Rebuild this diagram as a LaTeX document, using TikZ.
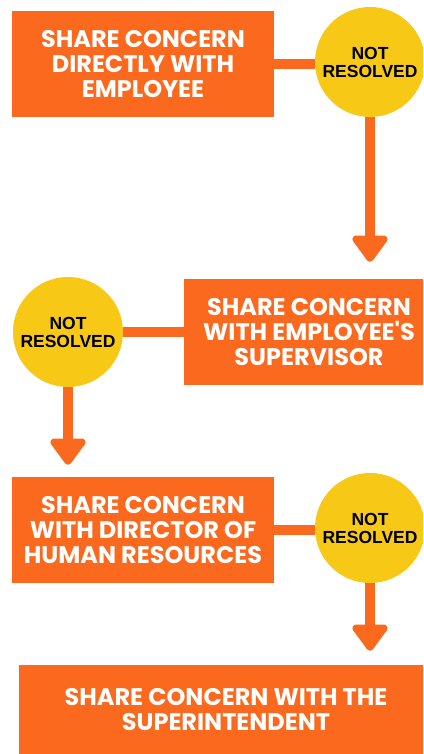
\documentclass[tikz,border=0pt]{standalone}
\usepackage{fontspec}
\usetikzlibrary{arrows.meta}
\newfontfamily\boxfont{Poppins}
\newfontfamily\circfont{Liberation Sans}
\definecolor{orng}{HTML}{FA691E}
\definecolor{yel}{HTML}{F7C916}
\begin{document}
\begin{tikzpicture}[x=1pt,y=-1pt,
  stepbox/.style={fill=orng, inner sep=0pt, minimum height=106pt, text=white,
    font=\boxfont\bfseries\fontsize{24}{25}\selectfont, align=center},
  notres/.style={circle, fill=yel, minimum size=110pt, inner sep=0pt,
    font=\circfont\bfseries\fontsize{17.5}{18}\selectfont, align=center},
  conn/.style={draw=orng, line width=10pt},
  arr/.style={conn, -{Triangle[width=40pt,length=29pt,round]}}]
\useasboundingbox (0,0) rectangle (423,754);
\clip (0,0) rectangle (423,754);
\fill[white] (0,0) rectangle (423,754);
% row 1
\node[stepbox, minimum width=262pt] (b1) at (143,64.5) {SHARE CONCERN\\DIRECTLY WITH\\EMPLOYEE};
\node[notres] (c1) at (370,62) {NOT\\RESOLVED};
% row 2
\node[stepbox, minimum width=250pt] (b2) at (309,332) {SHARE CONCERN\\WITH EMPLOYEE'S\\SUPERVISOR};
\node[notres] (c2) at (68,332) {NOT\\RESOLVED};
% row 3
\node[stepbox, minimum width=262pt] (b3) at (143,530) {SHARE CONCERN\\WITH DIRECTOR OF\\HUMAN RESOURCES};
\node[notres] (c3) at (370,528) {NOT\\RESOLVED};
% row 4
\node[stepbox, minimum width=414pt, minimum height=89pt] (b4) at (226,709.5) {SHARE CONCERN WITH THE\\SUPERINTENDENT};
% connectors
\draw[conn] (b1.east) -- (b1.east -| c1.west);
\draw[conn] (b2.west) -- (b2.west -| c2.east);
\draw[conn] (b3.east) -- (b3.east -| c3.west);
\draw[arr, shorten >=17pt] (c1.south) -- (c1.south |- b2.north);
\draw[arr, shorten >=12pt] (c2.south) -- (c2.south |- b3.north);
\draw[arr, shorten >=14pt] (c3.south) -- (c3.south |- b4.north);
\end{tikzpicture}
\end{document}
